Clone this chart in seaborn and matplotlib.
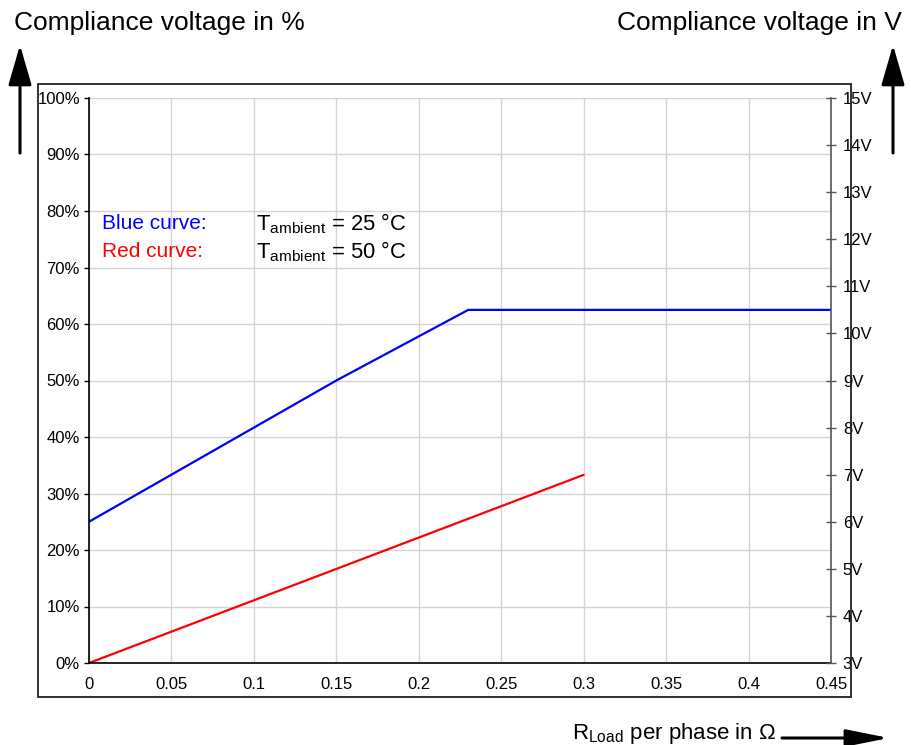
import numpy as np
import pandas as pd
import matplotlib
matplotlib.use("Agg")
import matplotlib.pyplot as plt
import seaborn as sns
from matplotlib.patches import Rectangle
from matplotlib.ticker import FuncFormatter

# curve data (x: R_Load in ohm, y: compliance voltage in %)
r_blue = [0.0, 0.15, 0.23, 0.45]
pct_blue = [25.0, 50.0, 62.5, 62.5]
r_red = [0.0, 0.30]
pct_red = [0.0, 33.3]

x_ticks = [0, 0.05, 0.1, 0.15, 0.2, 0.25, 0.3, 0.35, 0.4, 0.45]
x_labels = ["0", "0.05", "0.1", "0.15", "0.2", "0.25", "0.3", "0.35", "0.4", "0.45"]
pct_ticks = list(range(0, 101, 10))
volt_ticks = list(range(3, 16))

df = pd.concat([
    pd.DataFrame({"r": r_blue, "pct": pct_blue, "curve": "blue"}),
    pd.DataFrame({"r": r_red, "pct": pct_red, "curve": "red"}),
])

sns.set_style("white")
plt.rcParams["font.family"] = ["Liberation Sans", "DejaVu Sans"]
plt.rcParams["mathtext.fontset"] = "custom"
plt.rcParams["mathtext.rm"] = "Liberation Sans"
plt.rcParams["text.color"] = "black"
plt.rcParams["xtick.color"] = "black"
plt.rcParams["ytick.color"] = "black"

fig = plt.figure(figsize=(9.11, 7.45), dpi=100)
ax = fig.add_axes([89 / 911, 1 - 663 / 745, (831 - 89) / 911, (663 - 98) / 745])

sns.lineplot(data=df, x="r", y="pct", hue="curve", palette={"blue": "#0000ff", "red": "#ff0000"},
             linewidth=1.6, legend=False, ax=ax, sort=False)

ax.set_xlim(0, 0.45)
ax.set_ylim(0, 100)
ax.set_xticks(x_ticks)
ax.set_xticklabels(x_labels)
ax.set_yticks(pct_ticks)
ax.yaxis.set_major_formatter(FuncFormatter(lambda v, p: f"{v:.0f}%"))
ax.grid(True, color="#d4d4d4", linewidth=1.0)
ax.set_axisbelow(True)
ax.set_xlabel("")
ax.set_ylabel("")
ax.tick_params(axis="y", labelsize=12, direction="out", length=3.5, width=1, color="black",
               labelcolor="black", pad=3)
ax.tick_params(axis="x", labelsize=12, direction="out", length=4, width=1, color="#555555",
               labelcolor="black", pad=6)
for s in ["top", "right"]:
    ax.spines[s].set_visible(False)
for s in ["left", "bottom"]:
    ax.spines[s].set_color("black")
    ax.spines[s].set_linewidth(1.2)

# right axis in volts
ax2 = ax.twinx()
ax2.set_ylim(3, 15)
ax2.set_yticks(volt_ticks)
ax2.set_yticklabels([f"{v}V" for v in volt_ticks])
ax2.tick_params(axis="y", labelsize=12, direction="inout", length=7, width=1, color="#555555",
                labelcolor="black", pad=5)
for s in ["top", "left", "bottom"]:
    ax2.spines[s].set_visible(False)
ax2.spines["right"].set_color("#555555")
ax2.spines["right"].set_linewidth(1.2)

# legend text
ax.text(0.008, 77.8, "Blue curve:", color="#0000ff", fontsize=15, va="center")
ax.text(0.008, 72.8, "Red curve:", color="#ff0000", fontsize=15, va="center")
ax.text(0.101, 77.8, r"T$_\mathregular{ambient}$ = 25 °C", color="black", fontsize=15.8, va="center")
ax.text(0.101, 72.8, r"T$_\mathregular{ambient}$ = 50 °C", color="black", fontsize=15.8, va="center")

# outer frame
fig.add_artist(Rectangle((38 / 911, 1 - 697 / 745), (851 - 38) / 911, (697 - 84) / 745,
                         transform=fig.transFigure, fill=False, edgecolor="#222222", linewidth=1.3))

# axis titles and arrows
fig.text(14 / 911, 1 - 23 / 745, "Compliance voltage in %", fontsize=19, ha="left", va="center")
fig.text(902 / 911, 1 - 23 / 745, "Compliance voltage in V", fontsize=19, ha="right", va="center")
fig.text(572 / 911, 1 - 733 / 745, r"R$_\mathregular{Load}$ per phase in Ω", fontsize=16, ha="left", va="center")

up = dict(arrowstyle="-|>,head_length=1.9,head_width=0.55", color="black", lw=2.2, mutation_scale=13,
          shrinkA=0, shrinkB=0)
right = dict(arrowstyle="-|>,head_length=2.0,head_width=0.4", color="black", lw=2.2, mutation_scale=13,
             shrinkA=0, shrinkB=0)
ax.annotate("", xy=(20 / 911, 1 - 45 / 745), xytext=(20 / 911, 1 - 153 / 745),
            xycoords="figure fraction", textcoords="figure fraction", arrowprops=up)
ax.annotate("", xy=(893 / 911, 1 - 45 / 745), xytext=(893 / 911, 1 - 153 / 745),
            xycoords="figure fraction", textcoords="figure fraction", arrowprops=up)
ax.annotate("", xy=(889 / 911, 1 - 738 / 745), xytext=(782 / 911, 1 - 738 / 745),
            xycoords="figure fraction", textcoords="figure fraction", arrowprops=right)

fig.savefig("out.png", dpi=100)
